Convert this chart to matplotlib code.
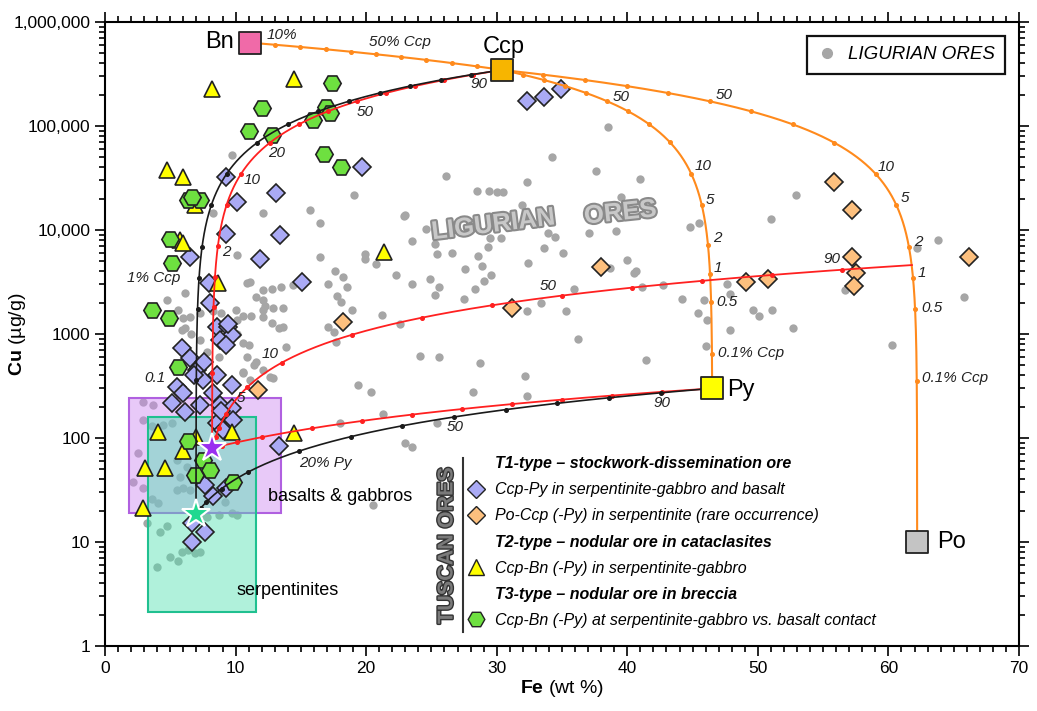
import numpy as np
import matplotlib
matplotlib.use("Agg")
import matplotlib.pyplot as plt
from matplotlib.lines import Line2D
from matplotlib.patches import Rectangle
from matplotlib.ticker import MultipleLocator, LogLocator, NullFormatter
import matplotlib.patheffects as pe

plt.rcParams['font.family'] = ['Liberation Sans', 'DejaVu Sans']
plt.rcParams['mathtext.fontset'] = 'custom'
plt.rcParams['mathtext.rm'] = 'Liberation Sans'
plt.rcParams['mathtext.bf'] = 'Liberation Sans:bold'
plt.rcParams['mathtext.it'] = 'Liberation Sans:italic'

# ---- data (Fe wt %, Cu ug/g) ----
end_names = ["Bn", "Ccp", "Py", "Po"]
end_fe = [11.1, 30.4, 46.5, 62.2]
end_cu = [633000, 346000, 300, 10]
end_colors = ["#f06aa8", "#f7b500", "#ffff00", "#c4c4c4"]

basalt = (8.2, 80)       # purple star
serp = (6.97, 18.6)      # green star
po_ccp = (61.8, 4600)    # end of red curve on the Ccp-Po line

# boxes: Fe min, Fe max, Cu min, Cu max
basalt_box = (1.8, 13.5, 19, 240)
serp_box = (3.3, 11.6, 2.1, 158)

ligurian_fe = [38.5, 34.2, 26.1, 32.3, 37.6, 41.0, 28.5, 29.4, 30.0, 30.5, 39.5, 31.9, 23.0, 24.6,
               44.8, 45.5, 37.1, 39.1, 34.5, 29.5, 23.5, 30.3, 19.1, 15.7, 16.5, 22.9, 33.9, 25.3,
               25.4, 26.6, 29.3, 28.6, 33.6, 35.1, 32.4, 16.5, 19.9, 19.9, 20.75, 17.6, 18.2, 22.3,
               27.6, 29.6, 29.0, 17.1, 18.5, 23.5, 24.9, 25.6, 28.3, 17.8, 18.1, 25.3, 27.5, 18.9,
               21.2, 17.1, 17.5, 22.6, 32.3, 33.4, 35.3, 52.9, 51.0, 40.0, 40.7, 40.5, 38.7, 35.9,
               41.1, 42.7, 47.6, 36.2, 44.2, 45.9, 45.4, 46.1, 47.9, 49.6, 50.1, 51.1, 47.9, 52.7,
               46.0, 56.7, 60.3, 63.8, 62.2, 65.8, 28.9, 24.1, 25.6, 28.7, 41.4, 32.2, 28.2, 32.3,
               23.0, 23.5, 17.7, 19.4, 20.4, 21.3, 25.4, 18.0, 20.55, 9.75, 12.1, 8.3, 10.1, 11.6,
               4.72, 6.13, 5.87, 7.27, 10.85, 11.1, 12.1, 12.8, 13.5, 14.4, 12.1, 12.25, 12.1, 12.1,
               12.9, 13.65, 12.8, 13.3, 13.65, 10.1, 10.6, 11.0, 10.85, 13.9, 11.6, 12.1, 10.6, 12.6,
               6.0, 5.6, 6.0, 6.5, 6.1, 6.6, 7.27, 8.3, 8.9, 10.0, 10.6, 10.1, 11.2, 7.8, 8.7, 10.6,
               11.4, 12.9, 11.1, 2.93, 3.7, 4.47, 5.1, 2.55, 2.17, 2.93, 3.58, 4.08, 3.19, 3.96,
               4.98, 5.61, 5.87, 6.38, 6.89, 7.27, 4.2, 4.72, 7.3, 7.8, 8.7, 5.5, 6.0, 6.5, 5.74,
               6.26, 5.5, 9.2, 9.7, 10.1, 3.6, 2.9]
ligurian_cu = [97000, 50700, 33000, 28900, 37200, 30900, 23900, 23900, 23000, 23000, 20600, 17300,
               13900, 10200, 10600, 11800, 9420, 9800, 8500, 8370, 7800, 8320, 21700, 15400, 11700,
               13600, 9300, 7330, 5870, 6050, 6820, 5620, 6670, 5970, 4850, 5460, 5870, 5220, 4710,
               4070, 3560, 3670, 4220, 3690, 3240, 3030, 2810, 3030, 3360, 2850, 2690, 2330, 2040,
               2370, 2150, 1700, 1520, 1175, 1050, 1240, 1680, 1970, 1650, 21700, 12800, 5150, 4070,
               3830, 4340, 2710, 2850, 2960, 3010, 890, 2190, 2120, 1590, 1370, 2410, 1700, 1490,
               1700, 1090, 1140, 767, 2650, 783, 8020, 6670, 2290, 4510, 618, 605, 530, 562, 394,
               279, 255, 89, 82, 843, 324, 279, 170, 140, 138, 22.7, 52300, 14500, 14500, 5760, 2290,
               2120, 2460, 1090, 875, 3070, 3190, 2650, 2690, 2850, 2960, 2120, 1870, 1700, 1470,
               1770, 1770, 1270, 1140, 1175, 1010, 813, 783, 605, 755, 542, 451, 419, 389, 702, 1700,
               1420, 1470, 1140, 1010, 1580, 1650, 1590, 1700, 1500, 1350, 1480, 676, 605, 434, 504,
               375, 361, 224, 207, 133, 138, 71, 38, 33, 26, 23.6, 15.1, 5.8, 7.2, 6.5, 8.1, 8.4,
               7.8, 8.1, 12.6, 14.1, 17.5, 17.5, 18.2, 31.6, 32.8, 31.6, 42.5, 53, 61, 24.4, 18.9,
               18.2, 129, 149]

t1a_fe = [32.3, 33.6, 34.9, 9.3, 13.1, 19.7, 10.1, 9.27, 13.4, 6.5, 11.9, 15.1, 7.96, 8.04, 8.55,
          9.44, 9.7, 8.8, 9.3, 5.87, 6.5, 7.02, 7.53, 8.55, 9.7, 5.49, 6.0, 5.1, 6.13, 7.27, 8.29,
          8.8, 9.7, 9.82, 8.55, 9.06, 13.3, 9.4, 7.6, 6.8, 8.9, 8.29, 7.66, 9.3, 6.64, 7.66, 6.64]
t1a_cu = [175000, 191000, 225000, 32600, 22900, 40100, 18700, 9160, 8900, 5530, 5220, 3160, 3110,
          1970, 1175, 1175, 977, 875, 783, 728, 583, 451, 361, 404, 324, 311, 269, 216, 179, 207,
          269, 207, 193, 149, 138, 119, 83, 1250, 540, 400, 180, 27.7, 35.3, 32.8, 15.1, 12.6, 10.1]

t1b_fe = [55.8, 57.2, 57.2, 57.5, 57.4, 66.2, 50.8, 49.1, 37.95, 31.2, 18.25, 11.7]
t1b_cu = [29100, 15600, 5530, 3880, 2900, 5530, 3400, 3160, 4380, 1770, 1310, 290]

t2_fe = [8.17, 14.5, 4.72, 6.0, 5.74, 6.9, 6.0, 8.68, 21.4, 4.08, 9.7, 14.5, 5.95, 3.06, 4.6, 2.88, 7.0]
t2_cu = [225000, 281000, 37800, 32600, 8020, 17400, 7450, 3070, 6180, 115, 115, 111, 75, 51, 51, 21, 103]

t3_fe = [17.4, 12.0, 16.9, 17.2, 15.9, 11.0, 12.8, 16.8, 18.1, 6.38, 7.27, 6.64, 4.98, 5.1, 3.57,
         4.92, 5.61, 6.38, 7.53, 6.89, 8.04, 9.82]
t3_cu = [261000, 148000, 151000, 132000, 114000, 90100, 81900, 53800, 40700, 19400, 19400, 20900,
         8130, 4790, 1700, 1420, 486, 94, 61.4, 44, 49, 38]

# mixing tick fractions
tick_frac = [0.001, 0.005, 0.01, 0.02, 0.05, 0.1, 0.2, 0.3, 0.4, 0.5, 0.6, 0.7, 0.8, 0.9]
bn_tick_frac = [0.1, 0.2, 0.3, 0.4, 0.5, 0.6, 0.7, 0.8, 0.9]

y_ticks = [1, 10, 100, 1000, 1e4, 1e5, 1e6]
y_tick_labels = ["1", "10", "100", "1000", "10,000", "100,000", "1,000,000"]

bn = (end_fe[0], end_cu[0])
ccp = (end_fe[1], end_cu[1])
py = (end_fe[2], end_cu[2])
po = (end_fe[3], end_cu[3])


def mix(a, b, f):
    f = np.asarray(f, dtype=float)
    return a[0] * (1 - f) + b[0] * f, a[1] * (1 - f) + b[1] * f


fig = plt.figure(figsize=(10.37, 7.11), dpi=100)
ax = fig.add_axes([105 / 1037, 1 - 646 / 711, 914 / 1037, 624 / 711])
ax.set_yscale('log')
ax.set_xlim(0, 70)
ax.set_ylim(1, 1e6)

# Ligurian ores
ax.plot(ligurian_fe, ligurian_cu, 'o', color='#a6a6a6', ms=6, mec='none', zorder=1)

# rock boxes
for box, fc, ec in [(basalt_box, '#cc88f0', '#b060e0'), (serp_box, '#50e0b0', '#20c090')]:
    ax.add_patch(Rectangle((box[0], box[2]), box[1] - box[0], box[3] - box[2],
                           facecolor=fc, alpha=0.45, edgecolor='none', zorder=2))
    ax.add_patch(Rectangle((box[0], box[2]), box[1] - box[0], box[3] - box[2],
                           facecolor='none', edgecolor=ec, lw=1.5, zorder=2))
ax.text(18.0, 27.5, "basalts & gabbros", fontsize=13, ha='center', va='center', zorder=6)
ax.text(14.0, 3.4, "serpentinites", fontsize=13, ha='center', va='center', zorder=6)

# Tuscan ores markers
ax.plot(t1a_fe, t1a_cu, 'D', mfc='#aaaaf5', mec='#222222', mew=1.2, ms=9.5, zorder=4)
ax.plot(t1b_fe, t1b_cu, 'D', mfc='#fdc07e', mec='#222222', mew=1.2, ms=9.5, zorder=4)
ax.plot(t2_fe, t2_cu, '^', mfc='#ffff00', mec='#222222', mew=1.2, ms=11, zorder=4)
ax.plot(t3_fe, t3_cu, 'H', mfc='#6ee040', mec='#222222', mew=1.2, ms=12.5, zorder=4)

# mixing curves
frac = np.concatenate([[0], np.geomspace(1e-5, 1, 3000)])
curves = [
    (bn, ccp, '#ff8a1c', 1.5, bn_tick_frac),
    (py, ccp, '#ff8a1c', 1.5, tick_frac),
    (po, ccp, '#ff8a1c', 1.5, tick_frac),
    (basalt, ccp, '#ff2020', 1.3, tick_frac),
    (basalt, po_ccp, '#ff2020', 1.3, tick_frac),
    (basalt, py, '#ff2020', 1.3, tick_frac),
    (serp, ccp, '#1a1a1a', 1.2, tick_frac),
    (serp, py, '#1a1a1a', 1.2, tick_frac),
]
for a, b, c, lw, tf in curves:
    x, y = mix(a, b, frac)
    ax.plot(x, y, color=c, lw=lw, zorder=5)
    tx, ty = mix(a, b, tf)
    ax.plot(tx, ty, 'o', color=c, ms=2.6, zorder=5)

# curve labels: start, end, fraction, text, dx, dy (pixels), ha
curve_labels = [
    (bn, ccp, 0.1, "10%", 7, 10, 'center'),
    (bn, ccp, 0.5, "50% Ccp", 24, 12, 'center'),
    (py, ccp, 0.5, "50", 14, 4, 'center'),
    (py, ccp, 0.1, "10", 12, 8, 'center'),
    (py, ccp, 0.05, "5", 8, 5, 'center'),
    (py, ccp, 0.02, "2", 9, 7, 'center'),
    (py, ccp, 0.01, "1", 8, 6, 'center'),
    (py, ccp, 0.005, "0.5", 16, 0, 'center'),
    (py, ccp, 0.001, "0.1% Ccp", 6, 1, 'left'),
    (po, ccp, 0.5, "50", 15, 6, 'center'),
    (po, ccp, 0.1, "10", 10, 7, 'center'),
    (po, ccp, 0.05, "5", 9, 7, 'center'),
    (po, ccp, 0.02, "2", 9, 5, 'center'),
    (po, ccp, 0.01, "1", 9, 5, 'center'),
    (po, ccp, 0.005, "0.5", 17, 1, 'center'),
    (po, ccp, 0.001, "0.1% Ccp", 5, 3, 'left'),
    (basalt, ccp, 0.02, "2", 8, -6, 'center'),
    (basalt, ccp, 0.1, "10", 11, -6, 'center'),
    (basalt, ccp, 0.2, "20", 7, -10, 'center'),
    (basalt, ccp, 0.5, "50", 8, -11, 'center'),
    (basalt, ccp, 0.9, "90", 6, -9, 'center'),
    (basalt, po_ccp, 0.05, "5", -6, -11, 'center'),
    (basalt, po_ccp, 0.1, "10", -12, 9, 'center'),
    (basalt, po_ccp, 0.5, "50", -14, 10, 'center'),
    (basalt, po_ccp, 0.9, "90", -10, 11, 'center'),
    (serp, ccp, 0.001, "0.1", -31, 2, 'right'),
    (serp, ccp, 0.01, "1% Ccp", -19, 0, 'right'),
    (serp, py, 0.2, "20% Py", 0, -12, 'left'),
    (serp, py, 0.5, "50", 1, -10, 'center'),
    (serp, py, 0.9, "90", 1, -10, 'center'),
]
for a, b, f, s, dx, dy, ha in curve_labels:
    px, py_ = mix(a, b, f)
    ax.annotate(s, (float(px), float(py_)), xytext=(dx, dy), textcoords='offset pixels',
                fontsize=11, style='italic', ha=ha, va='center', color='#222222', zorder=6)

# stars
ax.plot(*basalt, marker='*', ms=21, mfc='#9a30f0', mec='white', mew=1.5, zorder=7)
ax.plot(*serp, marker='*', ms=21, mfc='#20d890', mec='white', mew=1.5, zorder=7)

# end-member squares
ax.scatter(end_fe, end_cu, marker='s', s=250, c=end_colors, edgecolors='#222222', linewidths=1.3, zorder=8)
end_offsets = [(-16, 1, 'right'), (2, 23, 'center'), (15, -2, 'left'), (20, 0, 'left')]
for n, fe, cu, (dx, dy, ha) in zip(end_names, end_fe, end_cu, end_offsets):
    ax.annotate(n, (fe, cu), xytext=(dx, dy), textcoords='offset pixels', fontsize=17,
                ha=ha, va='center', zorder=8)

# watermark text
wm = [pe.withStroke(linewidth=3, foreground='#8a8a8a')]
ax.text(0.425, 0.675, "LIGURIAN", transform=ax.transAxes, fontsize=18.5, fontweight='bold',
        color='#c8c8c8', rotation=7, ha='center', va='center', path_effects=wm, zorder=1.5)
ax.text(0.564, 0.694, "ORES", transform=ax.transAxes, fontsize=18.5, fontweight='bold',
        color='#c8c8c8', rotation=6, ha='center', va='center', path_effects=wm, zorder=1.5)

# Ligurian legend
leg1 = ax.legend([Line2D([], [], ls='none', marker='o', color='#a6a6a6', ms=7)], ["LIGURIAN ORES"],
                 loc='upper right', bbox_to_anchor=(1, 1), borderaxespad=0.75, handlelength=1.0,
                 handletextpad=0.6, borderpad=0.55, fancybox=False, framealpha=1, edgecolor='#111111',
                 prop={'style': 'italic', 'size': 13.5})
leg1.get_frame().set_linewidth(1.6)
ax.add_artist(leg1)

# Tuscan legend
blank = Line2D([], [], ls='none')
handles = [blank,
           Line2D([], [], ls='none', marker='D', mfc='#aaaaf5', mec='#222222', ms=9),
           Line2D([], [], ls='none', marker='D', mfc='#fdc07e', mec='#222222', ms=9),
           blank,
           Line2D([], [], ls='none', marker='^', mfc='#ffff00', mec='#222222', ms=11),
           blank,
           Line2D([], [], ls='none', marker='H', mfc='#6ee040', mec='#222222', ms=12)]
labels = ["T1-type \u2013 stockwork-dissemination ore",
          "Ccp-Py in serpentinite-gabbro and basalt",
          "Po-Ccp (-Py) in serpentinite (rare occurrence)",
          "T2-type \u2013 nodular ore in cataclasites",
          "Ccp-Bn (-Py) in serpentinite-gabbro",
          "T3-type \u2013 nodular ore in breccia",
          "Ccp-Bn (-Py) at serpentinite-gabbro vs. basalt contact"]
leg2 = ax.legend(handles, labels, loc='upper left', bbox_to_anchor=((466 - 105) / 914, (646 - 456) / 624),
                 borderaxespad=0, borderpad=0, handlelength=1.2, handletextpad=0.6, labelspacing=0.7,
                 frameon=False, prop={'style': 'italic', 'size': 11.5})
for i in (0, 3, 5):
    leg2.get_texts()[i].set_fontweight('bold')
ax.text((447 - 105) / 914, (646 - 546) / 624, "TUSCAN ORES", transform=ax.transAxes, rotation=90,
        fontsize=15.5, fontweight='bold', color='#7a7a7a', ha='center', va='center',
        path_effects=[pe.withStroke(linewidth=2, foreground='#333333')])
ax.plot([(463 - 105) / 914] * 2, [(646 - 458) / 624, (646 - 632) / 624], transform=ax.transAxes,
        color='#333333', lw=1.5)

# axes styling
ax.set_xticks(range(0, 71, 10))
ax.xaxis.set_minor_locator(MultipleLocator(1))
ax.set_yticks(y_ticks)
ax.set_yticklabels(y_tick_labels)
ax.yaxis.set_minor_locator(LogLocator(base=10, subs=range(2, 10), numticks=20))
ax.yaxis.set_minor_formatter(NullFormatter())
ax.tick_params(which='both', direction='out', top=True, right=True, width=1.2)
ax.tick_params(which='major', length=7, labelsize=12.5)
ax.tick_params(which='minor', length=4)
for s in ax.spines.values():
    s.set_linewidth(1.5)
ax.set_xlabel(r"$\bf{Fe}$ (wt %)", fontsize=14, labelpad=2)
ax.set_ylabel(r"$\bf{Cu}$ (µg/g)", fontsize=14)
ax.yaxis.set_label_coords((28 - 105) / 914, 0.5)

fig.savefig("out.png", dpi=100)
